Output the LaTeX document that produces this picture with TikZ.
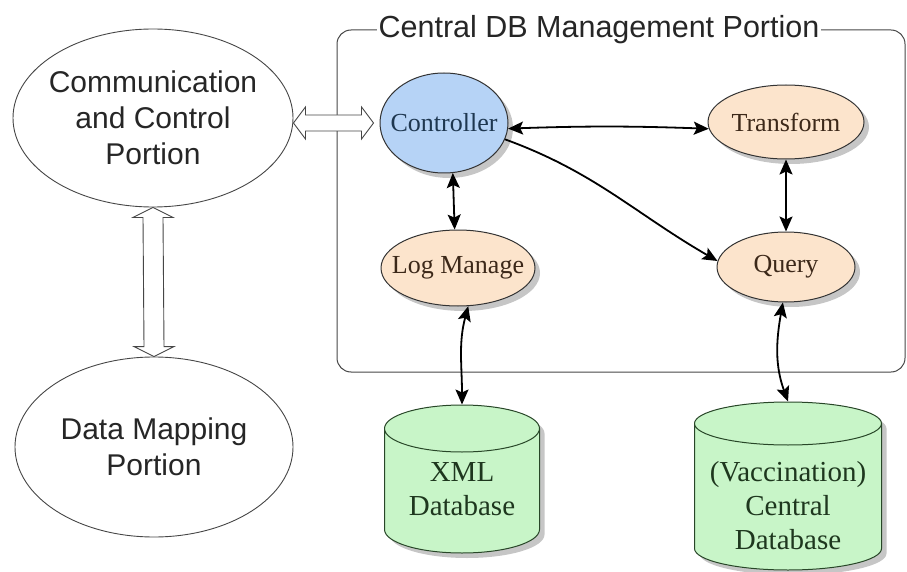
\documentclass[tikz,border=0pt]{standalone}
\usepackage{fontspec}
\setmainfont{Liberation Serif}
\setsansfont{Liberation Sans}
\usepackage{tikz}
\usetikzlibrary{shapes.geometric,shadows,arrows.meta,calc}
\definecolor{ctrlblue}{RGB}{182,211,246}
\definecolor{peach}{RGB}{252,228,204}
\definecolor{dbgreen}{RGB}{200,245,200}
\definecolor{dbline}{RGB}{40,70,40}
\definecolor{dbtext}{RGB}{30,55,30}
\definecolor{modtext}{RGB}{60,40,25}
\definecolor{ctrltext}{RGB}{30,55,80}
\definecolor{portionline}{RGB}{70,70,70}

\begin{document}
\begin{tikzpicture}[x=1pt, y=-1pt,
  portion/.style={shape=ellipse, draw=portionline, line width=0.9pt, inner sep=-20pt,
    align=center, text=black!85, font=\sffamily\fontsize{30}{36}\selectfont},
  module/.style={shape=ellipse, draw=black!80, line width=1pt, inner sep=-12pt, fill=peach,
    text=modtext, font=\fontsize{26}{30}\selectfont,
    drop shadow={shadow xshift=5pt, shadow yshift=-5pt, opacity=0.45, fill=gray}},
  store/.style={shape=cylinder, shape border rotate=90, anchor=shape center, draw=dbline,
    line width=1pt, fill=dbgreen, inner sep=0pt,
    drop shadow={shadow xshift=5pt, shadow yshift=-5pt, opacity=0.45, fill=gray}},
  storetext/.style={align=center, text=dbtext, inner sep=0pt, font=\fontsize{29}{34}\selectfont},
  link/.style={line width=1.8pt, {Stealth[length=15pt,width=13pt,inset=3pt]}-{Stealth[length=15pt,width=13pt,inset=3pt]}},
  flow/.style={line width=1.8pt, -{Stealth[length=15pt,width=13pt,inset=3pt]}},
  hollow/.style={draw=portionline, line width=0.9pt, fill=white}
]
\useasboundingbox (0,0) rectangle (907,572);

% left side
\node at (153,118) [portion, minimum width=280pt, minimum height=178pt] (comm) {Communication\\and Control\\Portion};
\node at (154,447) [portion, minimum width=278pt, minimum height=180pt] (map) {Data Mapping\\Portion};

% central part
\node at (621,201) [draw=portionline, line width=1pt, rounded corners=14pt, minimum width=568pt, minimum height=342pt] (central) {};
\node at (599,30) [fill=white, inner sep=2pt, text=black!85, font=\sffamily\fontsize{30.5}{36}\selectfont] (title) {Central DB Management Portion};

\node at (444,123) [module, fill=ctrlblue, text=ctrltext, minimum width=128pt, minimum height=100pt] (ctrl) {Controller};
\node at (786,122) [module, minimum width=156pt, minimum height=74pt] (trans) {Transform};
\node at (786,267) [module, minimum width=138pt, minimum height=70pt] (query) {Query};
\node at (458,268) [module, minimum width=154pt, minimum height=76pt] (logm) {Log Manage};

% databases
\node at (462,479) [store, aspect=0.47, minimum width=155pt, minimum height=148pt] (xml) {\phantom{\rule{100pt}{10pt}}};
\node at (788,486) [store, aspect=0.43, minimum width=187pt, minimum height=168pt] (cdb) {\phantom{\rule{100pt}{10pt}}};
\node at ($(xml.shape center)+(0,10)$) [storetext] (xmltext) {XML\\Database};
\node at ($(cdb.shape center)+(0,20)$) [storetext] (cdbtext) {(Vaccination)\\Central\\Database};

% hollow arrows
\coordinate (hl) at (comm.east |- ctrl.west);
\coordinate (hr) at ($(ctrl.west)+(-6,0)$);
\draw [hollow] (hl) -- ++(12,-16) -- ++(0,8) -- ($(hr)+(-12,-8)$) -- ++(0,-8) -- (hr)
  -- ++(-12,16) -- ++(0,-8) -- ($(hl)+(12,8)$) -- ++(0,8) -- cycle;
\coordinate (vt) at (comm.south);
\coordinate (vb) at (map.north);
\draw [hollow] (vt) -- ++(20,10) -- ++(-10,0) -- ($(vb)+(10,-10)$) -- ++(10,0) -- (vb)
  -- ++(-20,-10) -- ++(10,0) -- ($(vt)+(-10,10)$) -- ++(-10,0) -- cycle;

% connectors
\draw [link] (ctrl.-5) to [bend left=2] (trans.185);
\draw [flow] (ctrl.-15) to [out=-20, in=150] (query.175);
\draw [link] (ctrl.-80) to (logm.95);
\draw [link] (trans.south) to (query.north);
\draw [link] (logm.-75) to [out=-105, in=90] (xml.north);
\draw [link] (query.-95) to [out=-100, in=110] (cdb.north);
\end{tikzpicture}
\end{document}
